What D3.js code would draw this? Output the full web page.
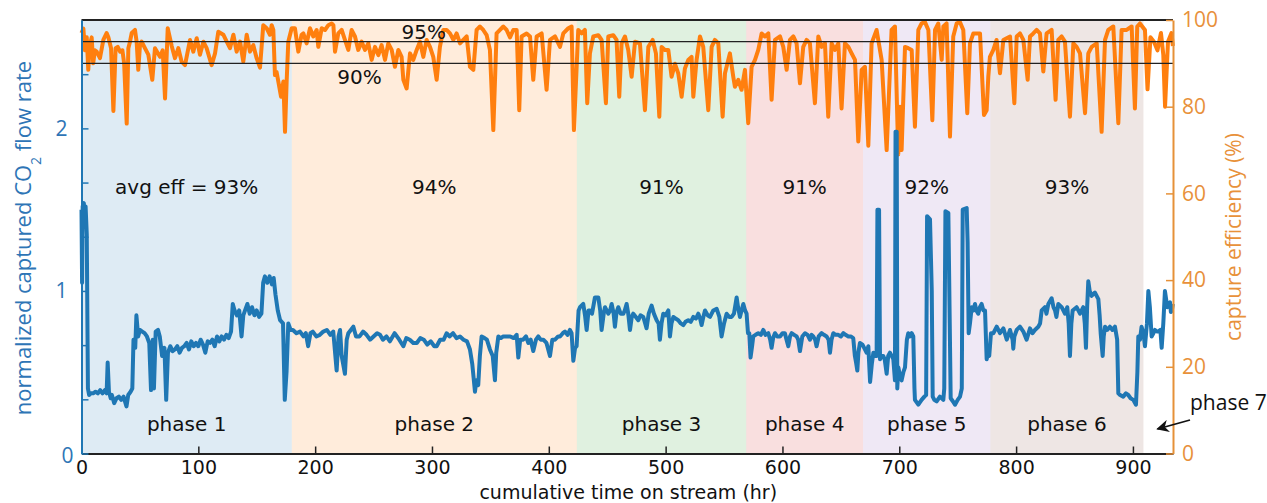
<!DOCTYPE html>
<html>
<head>
<meta charset="utf-8">
<script src="https://cdn.jsdelivr.net/npm/d3@7"></script>
<style>
  body { margin: 0; background: #fff; }
  svg { display: block; }
</style>
</head>
<body>
<script>
// phases of the run (hr on stream)
const phaseNames = ["phase 1", "phase 2", "phase 3", "phase 4", "phase 5", "phase 6"];
const phaseStarts = [0, 180, 424, 569, 669, 778];
const phaseEnds = [180, 424, 569, 669, 778, 909];
const phaseAvgLabels = ["avg eff = 93%", "94%", "91%", "91%", "92%", "93%"];
const phaseColors = ["#1f77b4", "#ff7f0e", "#2ca02c", "#d62728", "#9467bd", "#8c564b"];

const xTicks = [0, 100, 200, 300, 400, 500, 600, 700, 800, 900];
const flowTicks = [0, 1 / 3, 2 / 3, 1, 4 / 3, 5 / 3, 2, 7 / 3];
const flowLabels = [0, 1, 2];
const effTicks = [0, 20, 40, 60, 80, 100];
const effRefLines = [95, 90];

// normalized captured CO2 flow rate [hr, value]
const flowPoints = [
  [0,1.50],[0.5,1.05],[1,1.52],[2,1.54],[3,1.45],[3.5,1.52],[4.5,1.35],[5.5,0.40],[6.5,0.36],[8,0.37],
  [10,0.37],[12,0.38],[14,0.37],[16,0.39],[18,0.37],[20,0.39],[21.5,0.37],[22.4,0.56],[23.5,0.38],[25,0.34],
  [26,0.36],[28,0.31],[30,0.34],[32,0.35],[34,0.33],[36,0.35],[38.5,0.29],[40,0.36],[42,0.38],[43.5,0.40],
  [44.5,0.70],[46,0.65],[47,0.85],[48.5,0.72],[50,0.76],[52,0.75],[54,0.74],[56,0.72],[58,0.68],[59.5,0.39],
  [61,0.70],[62,0.40],[63.5,0.75],[65.5,0.76],[67,0.72],[69,0.60],[71,0.65],[72.5,0.33],[74,0.62],[76,0.66],
  [78,0.63],[80,0.64],[82,0.66],[84,0.62],[86,0.65],[88,0.66],[90,0.68],[92,0.64],[94,0.69],[96,0.66],
  [98,0.68],[100,0.66],[102,0.70],[104,0.67],[106,0.62],[108,0.69],[110,0.68],[112,0.70],[114,0.66],[116,0.72],
  [118,0.69],[120,0.72],[122,0.70],[124,0.73],[126,0.71],[128,0.75],[129.5,0.92],[131,0.88],[133,0.85],[135,0.88],
  [137,0.72],[138.5,0.85],[140,0.88],[142,0.92],[144,0.86],[146,0.90],[148,0.85],[150,0.88],[152,0.84],[154,0.86],
  [155.5,1.05],[157,1.09],[159,1.05],[161,1.09],[163,1.04],[164.5,1.08],[166,0.98],[168,0.88],[170,0.82],[172.5,0.80],
  [174,0.33],[175.5,0.50],[177,0.80],[179,0.76],
  [181,0.76],[184,0.74],[187,0.75],[190,0.72],[192,0.74],[194,0.66],[196,0.74],[198,0.75],[201,0.72],[204,0.73],
  [207,0.75],[210,0.76],[213,0.73],[215.5,0.75],[218.4,0.51],[220,0.72],[221.3,0.76],[222.7,0.60],[225.5,0.49],[227,0.70],
  [228.4,0.74],[232.7,0.78],[235,0.72],[238,0.72],[241,0.75],[244,0.73],[247,0.70],[250,0.72],[253,0.74],[255.5,0.73],
  [258,0.70],[261,0.72],[264,0.69],[268,0.74],[272,0.70],[275.5,0.66],[278,0.71],[281,0.70],[284,0.68],[287,0.68],
  [290,0.71],[293,0.70],[296,0.67],[299,0.69],[302,0.66],[304,0.66],[307,0.70],[310,0.70],[312.5,0.74],[315,0.72],
  [318,0.74],[321,0.71],[324,0.72],[327,0.70],[330,0.69],[332.5,0.64],[334.5,0.55],[336.8,0.38],[338,0.45],[339.6,0.42],
  [341,0.60],[342.5,0.72],[345,0.71],[347,0.70],[349.6,0.64],[352,0.60],[353.9,0.45],[355,0.62],[356.8,0.72],[359,0.71],
  [361,0.72],[364,0.72],[367,0.72],[370,0.71],[372.5,0.73],[373.9,0.59],[375.5,0.70],[378,0.70],[380.5,0.72],[382.5,0.68],
  [384.5,0.70],[386.7,0.63],[389,0.70],[391,0.72],[393,0.70],[395.3,0.70],[398,0.68],[401,0.60],[403,0.70],[405.3,0.70],
  [408,0.72],[409.6,0.72],[412,0.74],[413.8,0.75],[416,0.73],[418.1,0.76],[419.5,0.74],[421,0.57],[422.5,0.65],[423.8,0.66],
  [425.5,0.88],[426.7,0.90],[429.5,0.92],[431,0.85],[432.4,0.76],[434,0.88],[435.2,0.88],[437,0.86],[439.5,0.96],[442.4,0.96],
  [444,0.88],[445.2,0.76],[447,0.86],[448.1,0.90],[450.9,0.86],[452.5,0.88],[453.8,0.92],[455.5,0.86],[456.6,0.78],[458,0.87],
  [459.5,0.90],[461.5,0.86],[463.8,0.86],[465,0.88],[466.6,0.92],[468,0.86],[469.5,0.76],[471,0.84],[472.3,0.86],[474.5,0.84],
  [476.6,0.82],[478.5,0.85],[480.9,0.84],[482.5,0.80],[483.7,0.77],[485.5,0.86],[488,0.91],[490,0.86],[492.3,0.82],[494,0.80],
  [495.1,0.70],[496.5,0.80],[498,0.86],[500,0.85],[502.3,0.88],[503.7,0.72],[505,0.80],[506.6,0.84],[508.5,0.83],[510.8,0.82],
  [513,0.80],[515.1,0.79],[517,0.81],[519.4,0.82],[521.5,0.81],[523.7,0.84],[526,0.83],[528,0.86],[529.5,0.83],[530.8,0.79],
  [532.3,0.84],[533.7,0.88],[536,0.85],[538,0.84],[540.8,0.88],[543.7,0.89],[546,0.84],[547.9,0.72],[550,0.80],[552.2,0.86],
  [554.5,0.84],[556.5,0.84],[558.5,0.86],[560.8,0.96],[562,0.90],[563.6,0.84],[565,0.88],[566.5,0.92],[568,0.88],[569.3,0.86],
  [570.5,0.74],[571.6,0.74],[572.7,0.59],[574,0.66],[575,0.72],[577,0.73],[579.3,0.74],[581.5,0.73],[583.6,0.76],[585.5,0.73],
  [587.9,0.74],[589.5,0.70],[590.7,0.65],[592,0.71],[593.6,0.74],[595.5,0.72],[597.9,0.72],[600,0.74],[602.1,0.74],[603.5,0.70],
  [605,0.66],[606.5,0.72],[607.9,0.74],[610,0.73],[612.1,0.72],[613.5,0.70],[615,0.63],[617,0.72],[619.3,0.74],[621.5,0.73],
  [623.5,0.70],[625,0.73],[626.4,0.72],[628,0.70],[629.2,0.66],[631,0.72],[633.5,0.74],[635.5,0.73],[637.8,0.72],[639.5,0.70],
  [640.7,0.62],[642,0.70],[643.5,0.74],[645.5,0.73],[647.8,0.73],[650,0.72],[652.1,0.74],[654,0.73],[656.4,0.72],[658.5,0.72],
  [660.6,0.71],[662,0.60],[663,0.56],[664.1,0.51],[665,0.62],[666.3,0.68],[668.5,0.67],[670.6,0.64],[672,0.62],[673.5,0.66],
  [675,0.44],[676.5,0.55],[677.8,0.62],[679,0.60],[680.6,0.60],[681.3,1.50],[682.7,1.50],[683.5,0.58],[685,0.60],[686.3,0.60],
  [687.5,0.58],[689.2,0.49],[690.5,0.60],[692,0.62],[693.5,0.60],[694.9,0.58],[696.3,0.45],[696.8,1.98],[697.8,1.98],[698.3,0.40],
  [699.2,0.53],[700.5,0.48],[702,0.45],[703.5,0.50],[704.9,0.53],[706.5,0.70],[707.7,0.74],[709,0.72],[710.6,0.74],[712,0.72],
  [713,0.40],[713.4,0.33],[716.3,0.30],[719.1,0.33],[721.5,0.35],[723,0.36],[723.8,1.46],[726.3,1.44],[727.8,1.00],[728.6,0.35],
  [730,0.33],[732,0.32],[734.8,0.35],[737.7,0.33],[738.5,0.40],[739.5,1.49],[742,1.48],[743.2,0.80],[744,0.34],[746,0.32],
  [747.7,0.30],[750,0.33],[752,0.35],[753.5,0.40],[754.3,1.50],[757.7,1.51],[758.5,1.30],[759.4,0.74],[760.5,0.80],[762,0.90],
  [763.5,0.88],[764.8,0.92],[766,0.88],[767.6,0.86],[769,0.90],[770.5,0.92],[772,0.88],[773.4,0.88],[774.8,0.58],[776,0.62],
  [777,0.60],[778.5,0.74],
  [780.5,0.74],[783.4,0.78],[786.2,0.74],[789.1,0.77],[792,0.70],[794.8,0.76],[797,0.70],[797.6,0.645],[798.5,0.72],[800.5,0.76],
  [803.3,0.78],[806.2,0.75],[809,0.70],[811.9,0.77],[814,0.74],[816.1,0.76],[819,0.78],[820.5,0.80],[821.9,0.88],[824.7,0.90],
  [826,0.86],[827.6,0.92],[830.4,0.955],[832,0.90],[833.3,0.88],[834.5,0.84],[836.1,0.92],[839,0.90],[841.8,0.86],[843.8,0.90],
  [845,0.80],[846.1,0.60],[847.3,0.80],[848.4,0.88],[851.8,0.90],[854.7,0.86],[857.5,0.90],[858.8,0.80],[859.8,0.65],[860.8,0.90],
  [861.8,1.06],[863,1.00],[864.6,0.97],[867.5,0.99],[870.4,0.95],[871.5,0.85],[872.4,0.74],[874.1,0.60],[875,0.72],[876.1,0.78],
  [878,0.76],[880.3,0.78],[882.5,0.76],[884.6,0.78],[886.5,0.70],[887.5,0.37],[889,0.36],[891.7,0.35],[894,0.37],[896,0.36],
  [898,0.34],[900.3,0.33],[902.6,0.30],[903.8,0.50],
  [904.6,0.72],[906,0.70],[907.4,0.78],[909,0.74],[910.3,0.66],[912,0.80],[913.2,1.00],[914.5,0.90],[916,0.72],[917.5,0.74],
  [918.9,0.76],[920.5,0.75],[921.7,0.75],[923.5,0.76],[924.6,0.65],[926,0.80],[927.4,1.00],[928.4,0.95],[929.4,0.90],[930.5,0.92],
  [931.7,0.93],[932.5,0.87],[933.3,0.88],[934.2,0.92]
];

// capture efficiency (%) [hr, value]
const effPoints = [
  [0,97],[1.6,98],[3,93],[4.5,96],[5.8,88.5],[7,94],[8.7,96],[10,90],[11.5,93],[13,92.7],
  [15.8,91.2],[18.7,95.4],[21.5,97],[23,96],[25.3,93.5],[27.3,79],[29.2,93.5],[31,93.8],[33,92.7],[35,93],
  [36.5,90],[38.7,76.1],[40.1,93.5],[41.5,95],[43,97],[45.8,97.7],[47.2,95],[48.6,88.5],[50,94],[51.5,95],
  [54.3,93.5],[57.2,92],[60.6,86.2],[62.9,93.5],[65,92.5],[67.2,91.5],[69.5,93],[71.5,81.9],[73.8,98.1],[77.2,94],
  [80,91.2],[82.9,93.5],[85.7,90.4],[88.6,89.6],[92.9,95.4],[95.7,92.7],[98.6,95.8],[101.4,92],[104.3,95],[107.1,93.5],
  [111.4,89.6],[114.3,92.3],[117.1,97.3],[121.4,96.6],[124.3,95],[127.1,93.5],[130,96.6],[132.8,92.7],[135.7,95],[138.5,90.4],
  [141.4,96.6],[144.2,92.7],[147.1,94.2],[149.9,91.2],[152.8,89],[155.6,98.8],[158.5,98.1],[161.3,96.6],[162.8,98.8],[164.2,97.7],
  [165.6,87.3],[167,88],[168.5,85.8],[170.8,82.3],[172.8,85.8],[174.2,74.2],[175.6,85.8],[177,95],[179.9,98.1],[182.7,98.1],
  [185.6,92.7],[188.4,96.6],[189.9,96.9],[192.7,94.6],[195.6,98.1],[198.4,96.2],[201.3,97.7],[202.7,93.8],[205.6,98.1],[208.4,97.7],
  [211.3,98.8],[214.1,99.2],[215.6,98.8],[217,92.7],[219.8,96.9],[222.7,97.7],[225.5,95.4],[228.4,93.1],[231.2,97.7],[234.1,96.2],
  [236.9,93.1],[239.8,95],[242.7,93.1],[245.5,94.6],[248.4,90.8],[251.2,93.8],[254.1,91.9],[256.9,94.2],[259.8,90.8],[262.6,94.6],
  [265.5,93.1],[268.3,89.2],[271.2,93.1],[274,91.5],[275.5,86.2],[278.3,84.2],[281.2,92.3],[284,90.8],[286.9,93.1],[289.7,95],
  [292.6,91.5],[295.4,95.4],[298.3,93.8],[301.1,91.5],[304,86.2],[306.8,93.8],[309.7,97.7],[312.5,97.7],[315.4,96.9],[318.3,95.4],
  [321.1,96.9],[324,94.6],[326.8,95.4],[329.7,96.2],[332.5,89.2],[335.4,88.5],[338.2,97.7],[341.1,98.5],[343.9,97.7],[346.8,96.5],
  [349.6,93.1],[352.5,74.6],[355.3,96.9],[358.2,97.7],[361.1,98.5],[363.9,97.7],[366.8,96],[369.6,97.7],[372.5,97.7],[374.7,79.2],
  [376.7,96.2],[381,96.9],[383.9,96.2],[386.7,86.2],[389.6,96.2],[393.9,96.9],[398.1,83.9],[401,95.4],[405.3,96.2],[409.6,93.8],
  [412.4,96.9],[416.7,98.1],[419.5,98.5],[421.5,74.6],[425.2,97.7],[428.1,96.9],[430.9,97.7],[432.9,80.8],[435.2,92.3],[438.1,96.2],
  [442.4,96.5],[445.2,95.4],[448.9,80.8],[450.9,96.2],[455.2,96.5],[458,95.4],[460.3,82.3],[462.3,94.6],[465.2,96.2],[468,93.1],
  [470.9,86.9],[473.8,95],[478,94.6],[482.3,79.2],[485.2,93.8],[488.9,95.4],[491.7,92.3],[494.6,77.7],[496.6,93.8],[499.4,93.1],
  [502.3,93.1],[505.1,86.9],[508,89.9],[510.8,87.7],[513.7,82.3],[516.5,88.8],[519.4,90.8],[522.2,91.5],[523.7,82.3],[526.5,90.8],
  [529.4,96.2],[532.2,93.8],[536.5,79.2],[539.4,93.8],[542.2,95.4],[545.1,94.6],[548.8,77.7],[550.8,87.7],[555,92.3],[557.9,86.9],
  [559.3,84.6],[562.2,86.2],[565,83.9],[567.9,88.5],[570.7,76.2],[573.6,89.2],[576.5,90.8],[579.3,93.1],[582.2,96.9],[585,96.2],
  [587.9,96.9],[590.7,81.6],[593.6,95.4],[597.9,96.2],[600.7,93.8],[603.6,88.5],[606.4,95.4],[609.3,96.2],[612.1,94.6],[615,85.4],
  [617.8,93.8],[620.7,95.4],[623.5,94.6],[627.8,80.8],[630.7,96.2],[633.5,93.8],[636.4,94.6],[639.2,77.7],[642.1,94.6],[644.9,93.1],
  [647.8,94.6],[650.6,79.6],[653.5,94.6],[656.4,93.8],[659.2,92.3],[662.1,90.8],[664.9,72],[667.8,88.5],[670.6,89.2],[673.5,71],
  [676.3,94.6],[680.6,97.7],[684.9,90.8],[689.2,70],[693.4,97.7],[696.3,98.5],[699.1,69],[700.6,80],[702,70],[704.9,93.8],
  [707.7,93.5],[710.6,93.1],[713.4,75.4],[716.3,97.7],[719.1,99.2],[722,99.5],[724.9,97.7],[728.3,76.9],[730.6,97.7],[733.4,99.2],
  [736.3,90.8],[737.7,98.5],[740.5,99.2],[743.4,73.1],[746.2,96.2],[749.1,99.2],[752,99.5],[754.8,97.7],[758.2,78.5],[760.5,94.6],
  [763.4,96.9],[769.1,96.9],[772.5,78.1],[774.8,79.2],[776.2,86.9],[777.6,91.5],[780.5,93.1],[783.3,95.4],[786.2,87.7],[789.1,95.4],
  [791.9,95.8],[794.8,96.2],[798.5,80.8],[800.5,96.2],[803.3,96.9],[806.2,95.4],[809.9,86.2],[811.9,96.2],[814.7,96.9],[817.6,97.7],
  [820.4,96.9],[823.3,88.1],[826.1,96.9],[830.4,97.7],[833.8,81.6],[836.1,95.4],[839,96.2],[841.8,95],[846.1,77.7],[849,94.6],
  [851.8,93.8],[854.7,92.3],[859,78.5],[861.8,92.3],[864.7,93.8],[869,94.6],[873.2,74.2],[876.1,95.4],[878.9,97.7],[883.2,98.5],
  [887.5,76.2],[890.3,97.7],[894.6,97.7],[898.9,98.5],[901.7,79.6],[903.7,98.5],[906,99.2],[910.3,97.7],[912.5,84],[915,96],
  [918,95],[921,93],[924,97],[926,92],[927.5,80],[930,95],[933,97],[934.2,94]
];

const width = 1267, height = 503;
const margin = { top: 20, right: 94, bottom: 49.5, left: 81.5 };
const blue = "#1f77b4", orange = "#ff7f0e";
const blueText = "#2e75b6", orangeText = "#e8913a";

const svg = d3.select("body").append("svg")
    .attr("width", width)
    .attr("height", height);

const x = d3.scaleLinear().domain([0, 934.3]).range([margin.left, width - margin.right]);
const yFlow = d3.scaleLinear().domain([0, 8 / 3]).range([height - margin.bottom, margin.top]);
const yEff = d3.scaleLinear().domain([0, 100]).range([height - margin.bottom, margin.top]);

// phase shading
svg.append("g").selectAll("rect")
    .data(phaseNames)
    .join("rect")
    .attr("x", (d, i) => x(phaseStarts[i]))
    .attr("width", (d, i) => x(phaseEnds[i]) - x(phaseStarts[i]))
    .attr("y", margin.top)
    .attr("height", yFlow(0) - margin.top)
    .attr("fill", (d, i) => phaseColors[i])
    .attr("fill-opacity", 0.15);

const labelFont = "'DejaVu Sans', sans-serif";
const sideFont = "'Open Sans', sans-serif";

// avg efficiency + phase name per band
svg.append("g").selectAll("text")
    .data(phaseAvgLabels)
    .join("text")
    .attr("x", (d, i) => x((phaseStarts[i] + phaseEnds[i]) / 2))
    .attr("y", 194)
    .attr("text-anchor", "middle")
    .style("font-family", labelFont)
    .style("font-size", "20px")
    .attr("fill", "#111")
    .text(d => d);

svg.append("g").selectAll("text")
    .data(phaseNames)
    .join("text")
    .attr("x", (d, i) => x((phaseStarts[i] + phaseEnds[i]) / 2))
    .attr("y", 431)
    .attr("text-anchor", "middle")
    .style("font-family", labelFont)
    .style("font-size", "20px")
    .attr("fill", "#111")
    .text(d => d);

// data lines
const effLine = d3.line().x(d => x(d[0])).y(d => yEff(d[1]));
const flowLine = d3.line().x(d => x(d[0])).y(d => yFlow(d[1]));

svg.append("path")
    .datum(effPoints)
    .attr("d", effLine)
    .attr("fill", "none")
    .attr("stroke", orange)
    .attr("stroke-width", 4)
    .attr("stroke-linejoin", "round");

svg.append("path")
    .datum(flowPoints)
    .attr("d", flowLine)
    .attr("fill", "none")
    .attr("stroke", blue)
    .attr("stroke-width", 4)
    .attr("stroke-linejoin", "round");

// 90 / 95 % guide lines
svg.append("g").selectAll("line")
    .data(effRefLines)
    .join("line")
    .attr("x1", x.range()[0])
    .attr("x2", x.range()[1])
    .attr("y1", d => yEff(d))
    .attr("y2", d => yEff(d))
    .attr("stroke", "#222")
    .attr("stroke-width", 1.3);

svg.append("text")
    .attr("x", x(293)).attr("y", yEff(95) - 3)
    .attr("text-anchor", "middle")
    .style("font-family", labelFont).style("font-size", "20px")
    .attr("fill", "#111")
    .text("95%");

svg.append("text")
    .attr("x", x(238)).attr("y", yEff(90) + 21)
    .attr("text-anchor", "middle")
    .style("font-family", labelFont).style("font-size", "20px")
    .attr("fill", "#111")
    .text("90%");

// top frame
svg.append("line")
    .attr("x1", x.range()[0]).attr("x2", x.range()[1])
    .attr("y1", margin.top).attr("y2", margin.top)
    .attr("stroke", "#222").attr("stroke-width", 2);

// axes
const xAxis = svg.append("g")
    .attr("transform", `translate(0,${yFlow(0)})`)
    .call(d3.axisBottom(x).tickValues(xTicks).tickSize(-7).tickPadding(7).tickSizeOuter(0));
xAxis.select(".domain").attr("stroke", "#222").attr("stroke-width", 2);
xAxis.selectAll(".tick line").attr("stroke", "#222").attr("stroke-width", 1.5);
xAxis.selectAll(".tick text")
    .style("font-family", labelFont).style("font-size", "19px").attr("fill", "#111");

const leftAxis = svg.append("g")
    .attr("transform", `translate(${margin.left},0)`)
    .call(d3.axisLeft(yFlow).tickValues(flowTicks).tickSize(-7).tickPadding(14).tickSizeOuter(0)
        .tickFormat(d => flowLabels.find(v => Math.abs(v - d) < 1e-6) !== undefined ? Math.round(d) : ""));
leftAxis.select(".domain").attr("stroke", blue).attr("stroke-width", 2);
leftAxis.selectAll(".tick line").attr("stroke", blue).attr("stroke-width", 1.5);
leftAxis.selectAll(".tick text")
    .style("font-family", sideFont).style("font-size", "21px").attr("fill", blueText)
    .attr("dx", d => d === 0 ? 6 : 0)
    .attr("dy", d => d === 0 ? "0.45em" : "0.32em");

const rightAxis = svg.append("g")
    .attr("transform", `translate(${x.range()[1]},0)`)
    .call(d3.axisRight(yEff).tickValues(effTicks).tickSize(-7).tickPadding(9).tickSizeOuter(0));
rightAxis.select(".domain").attr("stroke", "#e69138").attr("stroke-width", 2);
rightAxis.selectAll(".tick line").attr("stroke", "#e69138").attr("stroke-width", 1.5);
rightAxis.selectAll(".tick text")
    .style("font-family", sideFont).style("font-size", "21px").attr("fill", orangeText);

// axis titles
svg.append("text")
    .attr("x", (x.range()[0] + x.range()[1]) / 2 + 1)
    .attr("y", 498.5)
    .attr("text-anchor", "middle")
    .style("font-family", labelFont).style("font-size", "19px")
    .attr("fill", "#111")
    .text("cumulative time on stream (hr)");

const leftTitle = svg.append("text")
    .attr("transform", "translate(31,238) rotate(-90)")
    .attr("text-anchor", "middle")
    .style("font-family", sideFont).style("font-size", "22px")
    .attr("fill", blueText);
leftTitle.append("tspan").text("normalized captured CO");
leftTitle.append("tspan").attr("baseline-shift", "sub").style("font-size", "14px").text("2");
leftTitle.append("tspan").text(" flow rate");

svg.append("text")
    .attr("transform", "translate(1241,237) rotate(-90)")
    .attr("text-anchor", "middle")
    .style("font-family", sideFont).style("font-size", "21px")
    .attr("fill", orangeText)
    .text("capture efficiency (%)");

// phase 7 callout
svg.append("defs").append("marker")
    .attr("id", "arrowhead")
    .attr("viewBox", "0 0 10 10")
    .attr("refX", 9).attr("refY", 5)
    .attr("markerWidth", 7).attr("markerHeight", 7)
    .attr("orient", "auto")
    .append("path")
    .attr("d", "M0,0 L10,5 L0,10 L3,5 z")
    .attr("fill", "#111");

svg.append("line")
    .attr("x1", 1190).attr("y1", 420)
    .attr("x2", x(921)).attr("y2", 429)
    .attr("stroke", "#111").attr("stroke-width", 1.8)
    .attr("marker-end", "url(#arrowhead)");

svg.append("text")
    .attr("x", 1190).attr("y", 410)
    .style("font-family", sideFont).style("font-size", "21px")
    .attr("fill", "#111")
    .text("phase 7");
</script>
</body>
</html>
